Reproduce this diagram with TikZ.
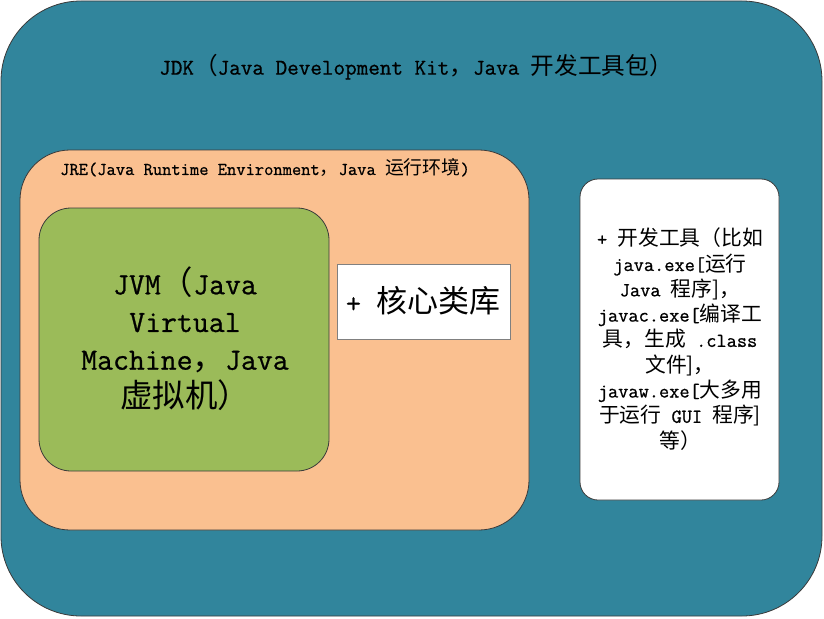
\documentclass[tikz,border=0pt]{standalone}
\usepackage{fontspec}
\setmainfont{Latin Modern Mono}[FakeBold=0.8]
\newfontfamily\cjkfont{Noto Sans CJK SC}[Scale=1.05]
\newcommand\hz[1]{{\cjkfont #1}}
\definecolor{jdkc}{HTML}{31859C}
\definecolor{jrec}{HTML}{FAC090}
\definecolor{jvmc}{HTML}{9BBB59}
\definecolor{edgec}{HTML}{3A3A3A}
\tikzset{
  box/.style={draw=edgec, line width=0.8pt, inner sep=0pt},
  lbl/.style={inner sep=0pt, align=center, text=black}
}
\begin{document}
\begin{tikzpicture}[x=1pt,y=-1pt]
\useasboundingbox (0,0) rectangle (824,618);
% JDK
\node[box, fill=jdkc, rounded corners=80pt, minimum width=821pt, minimum height=615pt] (jdk) at (411.5,308.5) {};
\node[lbl, font=\fontsize{22.5}{26}\selectfont] (jdkt) at (416,67) {JDK\hz{（}Java Development Kit\hz{，}Java \hz{开发工具包）}};
% JRE
\node[box, fill=jrec, rounded corners=50pt, minimum width=509pt, minimum height=380pt] (jre) at (274.5,340) {};
\node[lbl, anchor=west, font=\fontsize{18}{21}\selectfont] (jret) at (60,168) {JRE(Java Runtime Environment\hz{，}Java \hz{运行环境})};
% JVM
\node[box, fill=jvmc, rounded corners=32pt, minimum width=290pt, minimum height=263pt] (jvm) at (184,339.5) {};
\node[lbl, font=\fontsize{30.9}{37.7}\selectfont] (jvmt) at (185,338.5) {JVM\hz{（}Java\\Virtual\\Machine\hz{，}Java\\\hz{虚拟机）}};
% core libs
\node[draw=gray, line width=0.8pt, fill=white, inner sep=0pt, minimum width=173pt, minimum height=75pt] (core) at (423.5,301.5) {};
\node[lbl, font=\fontsize{29.5}{33}\selectfont] (coret) at (423,301) {+ \hz{核心类库}};
% tools
\node[box, fill=white, rounded corners=18pt, minimum width=199pt, minimum height=321pt] (tools) at (679.5,339.5) {};
\node[lbl, font=\fontsize{19.8}{25.3}\selectfont] (toolst) at (680,339) {+ \hz{开发工具（比如}\\java.exe[\hz{运行}\\Java \hz{程序]，}\\javac.exe[\hz{编译工}\\\hz{具，生成} .class\\\hz{文件]，}\\javaw.exe[\hz{大多用}\\\hz{于运行} GUI \hz{程序]}\\\hz{等）}};
\end{tikzpicture}
\end{document}
